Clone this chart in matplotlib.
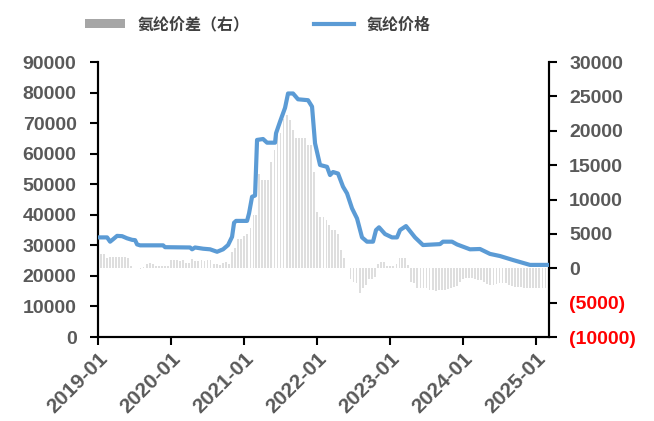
import numpy as np
import pandas as pd
import matplotlib
matplotlib.use("Agg")
import matplotlib.pyplot as plt
import matplotlib.dates as mdates
from matplotlib.patches import Patch
from matplotlib.lines import Line2D

plt.rcParams['font.family'] = ['Liberation Sans', 'Noto Sans CJK SC', 'DejaVu Sans']

# 氨纶价格 (left axis), read at turning points
price_dates = ['2019-01-01', '2019-02-15', '2019-03-02', '2019-03-17', '2019-04-06',
               '2019-05-01', '2019-05-26', '2019-06-20', '2019-07-05', '2019-07-15',
               '2019-07-30', '2019-11-22', '2019-12-02', '2020-04-05', '2020-04-15',
               '2020-04-30', '2020-06-09', '2020-07-14', '2020-08-18', '2020-09-17',
               '2020-10-12', '2020-11-01', '2020-11-11', '2020-11-21', '2021-01-15',
               '2021-01-25', '2021-02-09', '2021-02-24', '2021-03-06', '2021-04-05',
               '2021-04-25', '2021-06-04', '2021-06-09', '2021-06-29', '2021-07-14',
               '2021-07-24', '2021-08-08', '2021-09-02', '2021-09-27', '2021-11-16',
               '2021-12-06', '2021-12-21', '2022-01-15', '2022-02-19', '2022-03-06',
               '2022-03-21', '2022-04-15', '2022-05-10', '2022-05-30', '2022-06-24',
               '2022-07-19', '2022-08-13', '2022-09-07', '2022-10-07', '2022-10-22',
               '2022-11-06', '2022-12-06', '2023-01-10', '2023-02-04', '2023-02-19',
               '2023-03-21', '2023-05-05', '2023-06-14', '2023-09-07', '2023-09-22',
               '2023-11-06', '2023-12-01', '2024-02-04', '2024-03-25', '2024-05-14',
               '2024-07-03', '2024-09-06', '2024-11-30', '2025-03-01']
price_values = [32600, 32600, 31200, 32000, 33100,
                33000, 32300, 31800, 31700, 30300,
                30000, 30000, 29400, 29300, 28700,
                29300, 28900, 28700, 27900, 28700,
                30100, 32800, 37400, 38000, 38000,
                40500, 45900, 46300, 64500, 64800,
                63600, 63600, 66700, 70500, 73200,
                75000, 79700, 79700, 77800, 77500,
                75400, 63400, 56300, 55700, 53000,
                54000, 53500, 49200, 47000, 42100,
                38800, 32600, 31200, 31200, 35000,
                35900, 33700, 32600, 32600, 35000,
                36300, 32600, 30100, 30400, 31200,
                31200, 30300, 28700, 28800, 27200,
                26500, 25200, 23600, 23600]

# 氨纶价差 (right axis), two readings per month from 2019-01 to 2025-02
spread_months = pd.date_range('2019-01-01', '2025-02-01', freq='MS')
spread_values = [
    7600, 2100, 2100, 1500, 1600, 1600, 1600, 1600, 1600, 1600, 1500, 300,      # 2019 H1
    100, 0, -100, 200, 600, 700, 600, 300, 300, 300, 300, 300,                  # 2019 H2
    1200, 1200, 1200, 1100, 1200, 800, 800, 1400, 1100, 1100, 1200, 1000,       # 2020 H1
    1200, 1200, 600, 600, 500, 700, 900, 600, 2400, 3000, 4200, 4300,           # 2020 H2
    4700, 5000, 5800, 7700, 7800, 13700, 12800, 12800, 12800, 15500, 17200, 19700,   # 2021 H1
    19700, 21700, 22300, 21600, 20100, 18900, 18900, 18900, 18900, 17900, 17900, 14000,  # 2021 H2
    8200, 7400, 7400, 7000, 6300, 5600, 5500, 5000, 2600, 1500, 0, -1500,       # 2022 H1
    -2000, -2200, -3600, -2900, -2500, -1500, -1500, -1200, 600, 900, 900, 400,  # 2022 H2
    400, 400, 600, 1500, 1500, 1500, 500, -2000, -2200, -2800, -2800, -2900,    # 2023 H1
    -2900, -3100, -3100, -3300, -3200, -3100, -3100, -3000, -2900, -2700, -2600, -2000,  # 2023 H2
    -1600, -1450, -1450, -1450, -1500, -1700, -1700, -2000, -2300, -2400, -2400, -2300,  # 2024 H1
    -2200, -2200, -2200, -2400, -2600, -2700, -2700, -2700, -2800, -2800, -2900, -2900,  # 2024 H2
    -2900, -2900, -2900, -2900,                                                  # 2025
]

left_ticks = [0, 10000, 20000, 30000, 40000, 50000, 60000, 70000, 80000, 90000]
right_ticks = [-10000, -5000, 0, 5000, 10000, 15000, 20000, 25000, 30000]
legend_labels = ['氨纶价差（右）', '氨纶价格']

price_x = pd.to_datetime(price_dates)
spread_x = []
for m in spread_months:
    spread_x.append(m)
    spread_x.append(m + pd.Timedelta(days=15))

fig = plt.figure(figsize=(6.54, 4.21), dpi=100)
ax = fig.add_axes([0.150, 0.1995, 0.6894, 0.6532])
ax2 = ax.twinx()

ax2.bar(spread_x, spread_values, width=9, color='#dedede', linewidth=0, zorder=1)
ax.plot(price_x, price_values, color='#5b9bd5', linewidth=3, solid_joinstyle='round', zorder=3)

# keep the price line above the spread bars
ax.set_zorder(ax2.get_zorder() + 1)
ax.patch.set_visible(False)

ax.set_xlim(pd.Timestamp('2019-01-01'), pd.Timestamp('2025-03-05'))
ax.set_ylim(0, 90000)
ax2.set_ylim(-10000, 30000)

ax.set_yticks(left_ticks)
ax.set_yticklabels([str(v) for v in left_ticks])
ax2.set_yticks(right_ticks)
ax2.set_yticklabels(['(%d)' % -v if v < 0 else str(v) for v in right_ticks])

ax.xaxis.set_major_locator(mdates.YearLocator())
ax.xaxis.set_major_formatter(mdates.DateFormatter('%Y-%m'))

for a in (ax, ax2):
    a.spines['top'].set_visible(False)
    for s in ('left', 'right', 'bottom'):
        a.spines[s].set_linewidth(1.5)
        a.spines[s].set_color('black')
    a.tick_params(axis='both', length=5.5, width=1.5, color='black',
                  labelsize=14, labelcolor='#595959', direction='out')
ax.tick_params(axis='y', pad=10)
ax2.tick_params(axis='y', pad=9)
ax.tick_params(axis='x', labelsize=15, pad=3)

for lab in ax.get_yticklabels() + ax2.get_yticklabels() + ax.get_xticklabels():
    lab.set_fontweight('bold')
for lab, v in zip(ax2.get_yticklabels(), right_ticks):
    if v < 0:
        lab.set_color('#ff0000')
for lab in ax.get_xticklabels():
    lab.set_rotation(45)
    lab.set_ha('right')
    lab.set_rotation_mode('anchor')

handles = [Patch(facecolor='#a6a6a6', edgecolor='none'),
           Line2D([0], [0], color='#5b9bd5', linewidth=3)]
fig.legend(handles, legend_labels, loc='upper center', bbox_to_anchor=(0.394, 0.995),
           ncol=2, frameon=False, columnspacing=4.0, handlelength=2.5, handleheight=0.5,
           handletextpad=0.8,
           prop={'family': ['Noto Sans CJK SC', 'DejaVu Sans'], 'size': 11.5,
                 'weight': 'bold'},
           labelcolor='#404040')

fig.savefig('out.png', dpi=100)
